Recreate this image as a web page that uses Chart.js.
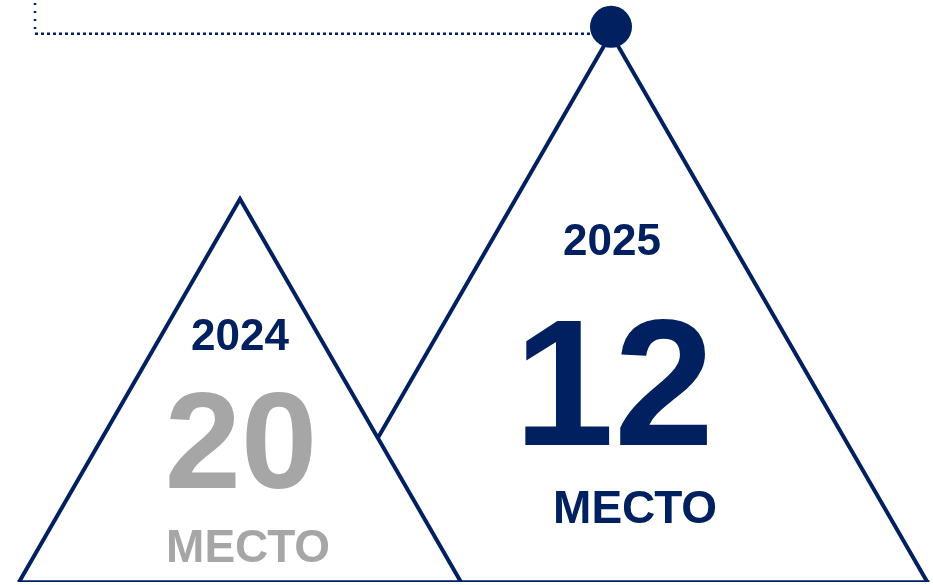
<!DOCTYPE html>
<html>
<head>
<meta charset="utf-8">
<script src="https://cdn.jsdelivr.net/npm/chart.js@4/dist/chart.umd.min.js"></script>
<style>
    html, body { margin: 0; padding: 0; background: #fff; }
    canvas { display: block; }
</style>
</head>
<body>
<canvas id="rankChart" width="933" height="585"></canvas>
<script>
// data
const years     = [2024, 2025];
const ranks     = [20, 12];
const peaks     = [65.8, 94.2];   // mountain height, 0–100 value axis
const rankLabel = 'МЕСТО';

const COLORS = {
    navy: '#002060',
    gray: '#A6A6A6',
    white: '#FFFFFF',
};

const SPREAD = 0.00905;      // half base width (years) per value unit
const X_MIN = 2023.3531;
const X_MAX = 2025.8679;
const LEADER_X = 2023.4474;

const rankColor = [COLORS.gray, COLORS.navy];
const FONT = '"Liberation Sans", Arial, sans-serif';

// text boxes: [year, big number, МЕСТО] -> value-axis baseline, px nudge, size
const TEXT = [
    { year: [39.9, 0, 44], rank: [16.2, 1, 137], word: [3.4, 8, 46] },
    { year: [56.2, 1, 44], rank: [23.5, 3, 180], word: [10.1, 24, 46] },
];

const mountain = (i) => [
    { x: years[i] - peaks[i] * SPREAD, y: 0 },
    { x: years[i],                     y: peaks[i] },
    { x: years[i] + peaks[i] * SPREAD, y: 0 },
];

const baseLeft  = Math.min(...years.map((y, i) => y - peaks[i] * SPREAD)) - 0.004;
const baseRight = Math.max(...years.map((y, i) => y + peaks[i] * SPREAD)) + 0.006;
const best = peaks.indexOf(Math.max(...peaks));

const labelsPlugin = {
    id: 'rankLabels',
    afterDatasetsDraw(chart) {
        const { ctx, scales: { x, y } } = chart;
        ctx.save();
        ctx.textAlign = 'center';
        ctx.textBaseline = 'alphabetic';
        years.forEach((yr, i) => {
            const cx = x.getPixelForValue(yr);
            const t = TEXT[i];
            const put = (text, [v, dx, size], color) => {
                ctx.font = `bold ${size}px ${FONT}`;
                ctx.fillStyle = color;
                ctx.fillText(text, cx + dx, y.getPixelForValue(v));
            };
            put(String(yr), t.year, COLORS.navy);
            put(String(ranks[i]), t.rank, rankColor[i]);
            put(rankLabel, t.word, rankColor[i]);
        });
        ctx.restore();
    },
};

new Chart(document.getElementById('rankChart').getContext('2d'), {
    type: 'line',
    data: {
        datasets: [
            {
                data: [{ x: years[best], y: peaks[best] + 1.2 }],
                showLine: false,
                pointRadius: 21,
                pointBackgroundColor: COLORS.navy,
                pointBorderWidth: 0,
                order: 0,
            },
            {
                data: [
                    { x: LEADER_X, y: 99.5 },
                    { x: LEADER_X, y: peaks[best] },
                ],
                borderColor: COLORS.navy,
                borderWidth: 2.5,
                borderDash: [2, 6],
                pointRadius: 0,
                order: 1,
            },
            {
                data: [
                    { x: LEADER_X, y: peaks[best] },
                    { x: years[best], y: peaks[best] },
                ],
                borderColor: COLORS.navy,
                borderWidth: 2.5,
                borderDash: [3, 3],
                pointRadius: 0,
                order: 1,
            },
            {
                data: [{ x: baseLeft, y: 0 }, { x: baseRight, y: 0 }],
                borderColor: COLORS.navy,
                borderWidth: 3.5,
                pointRadius: 0,
                order: 1,
            },
            {
                data: mountain(0),
                borderColor: COLORS.navy,
                backgroundColor: COLORS.white,
                borderWidth: 4,
                borderJoinStyle: 'miter',
                fill: 'origin',
                pointRadius: 0,
                order: 2,
            },
            {
                data: mountain(1),
                borderColor: COLORS.navy,
                backgroundColor: COLORS.white,
                borderWidth: 4,
                borderJoinStyle: 'miter',
                fill: 'origin',
                pointRadius: 0,
                order: 3,
            },
        ],
    },
    options: {
        responsive: false,
        animation: false,
        layout: { autoPadding: false, padding: { bottom: 3 } },
        scales: {
            x: { type: 'linear', min: X_MIN, max: X_MAX, display: false },
            y: { type: 'linear', min: 0, max: 100, display: false },
        },
        plugins: {
            legend: { display: false },
            tooltip: { enabled: false },
        },
    },
    plugins: [labelsPlugin],
});
</script>
</body>
</html>
